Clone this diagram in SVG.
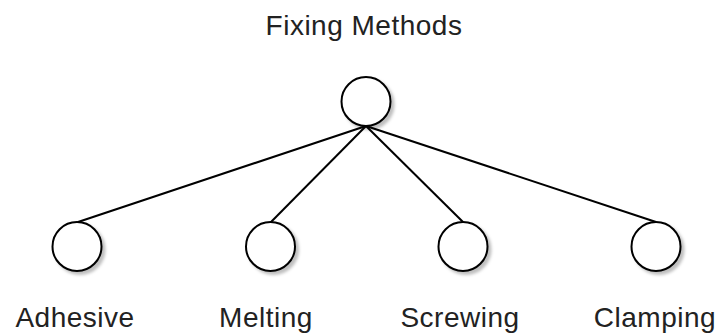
<svg xmlns="http://www.w3.org/2000/svg" width="720" height="336" viewBox="0 0 720 336">
<style>
.node{fill:#fff;stroke:#000;stroke-width:2;filter:url(#sh)}
.edge{stroke:#000;stroke-width:2;fill:none}
.lbl{font-family:"Liberation Sans",Arial,sans-serif;font-size:28px;letter-spacing:0.5px;fill:#222;text-anchor:middle}
</style>
<defs>
<filter id="sh" x="-30%" y="-30%" width="170%" height="170%">
<feDropShadow dx="3" dy="3" stdDeviation="1.5" flood-color="#000" flood-opacity="0.25"/>
</filter>
</defs>
<rect width="720" height="336" fill="#fff"/>
<g id="connectors">
<line class="edge" x1="366" y1="126" x2="78" y2="222"/>
<line class="edge" x1="366" y1="126" x2="271" y2="222"/>
<line class="edge" x1="366" y1="126" x2="463" y2="222"/>
<line class="edge" x1="366" y1="126" x2="656" y2="222"/>
</g>
<g id="root">
<circle class="node" cx="366" cy="101.5" r="24.5"/>
<text class="lbl" x="364" y="35">Fixing Methods</text>
</g>
<g id="adhesive">
<circle class="node" cx="77" cy="246.5" r="24.5"/>
<text class="lbl" x="75" y="327">Adhesive</text>
</g>
<g id="melting">
<circle class="node" cx="270.5" cy="246.5" r="24.5"/>
<text class="lbl" x="266" y="327">Melting</text>
</g>
<g id="screwing">
<circle class="node" cx="463" cy="246.5" r="24.5"/>
<text class="lbl" x="460" y="327">Screwing</text>
</g>
<g id="clamping">
<circle class="node" cx="656" cy="246.5" r="24.5"/>
<text class="lbl" x="655" y="327">Clamping</text>
</g>
</svg>
